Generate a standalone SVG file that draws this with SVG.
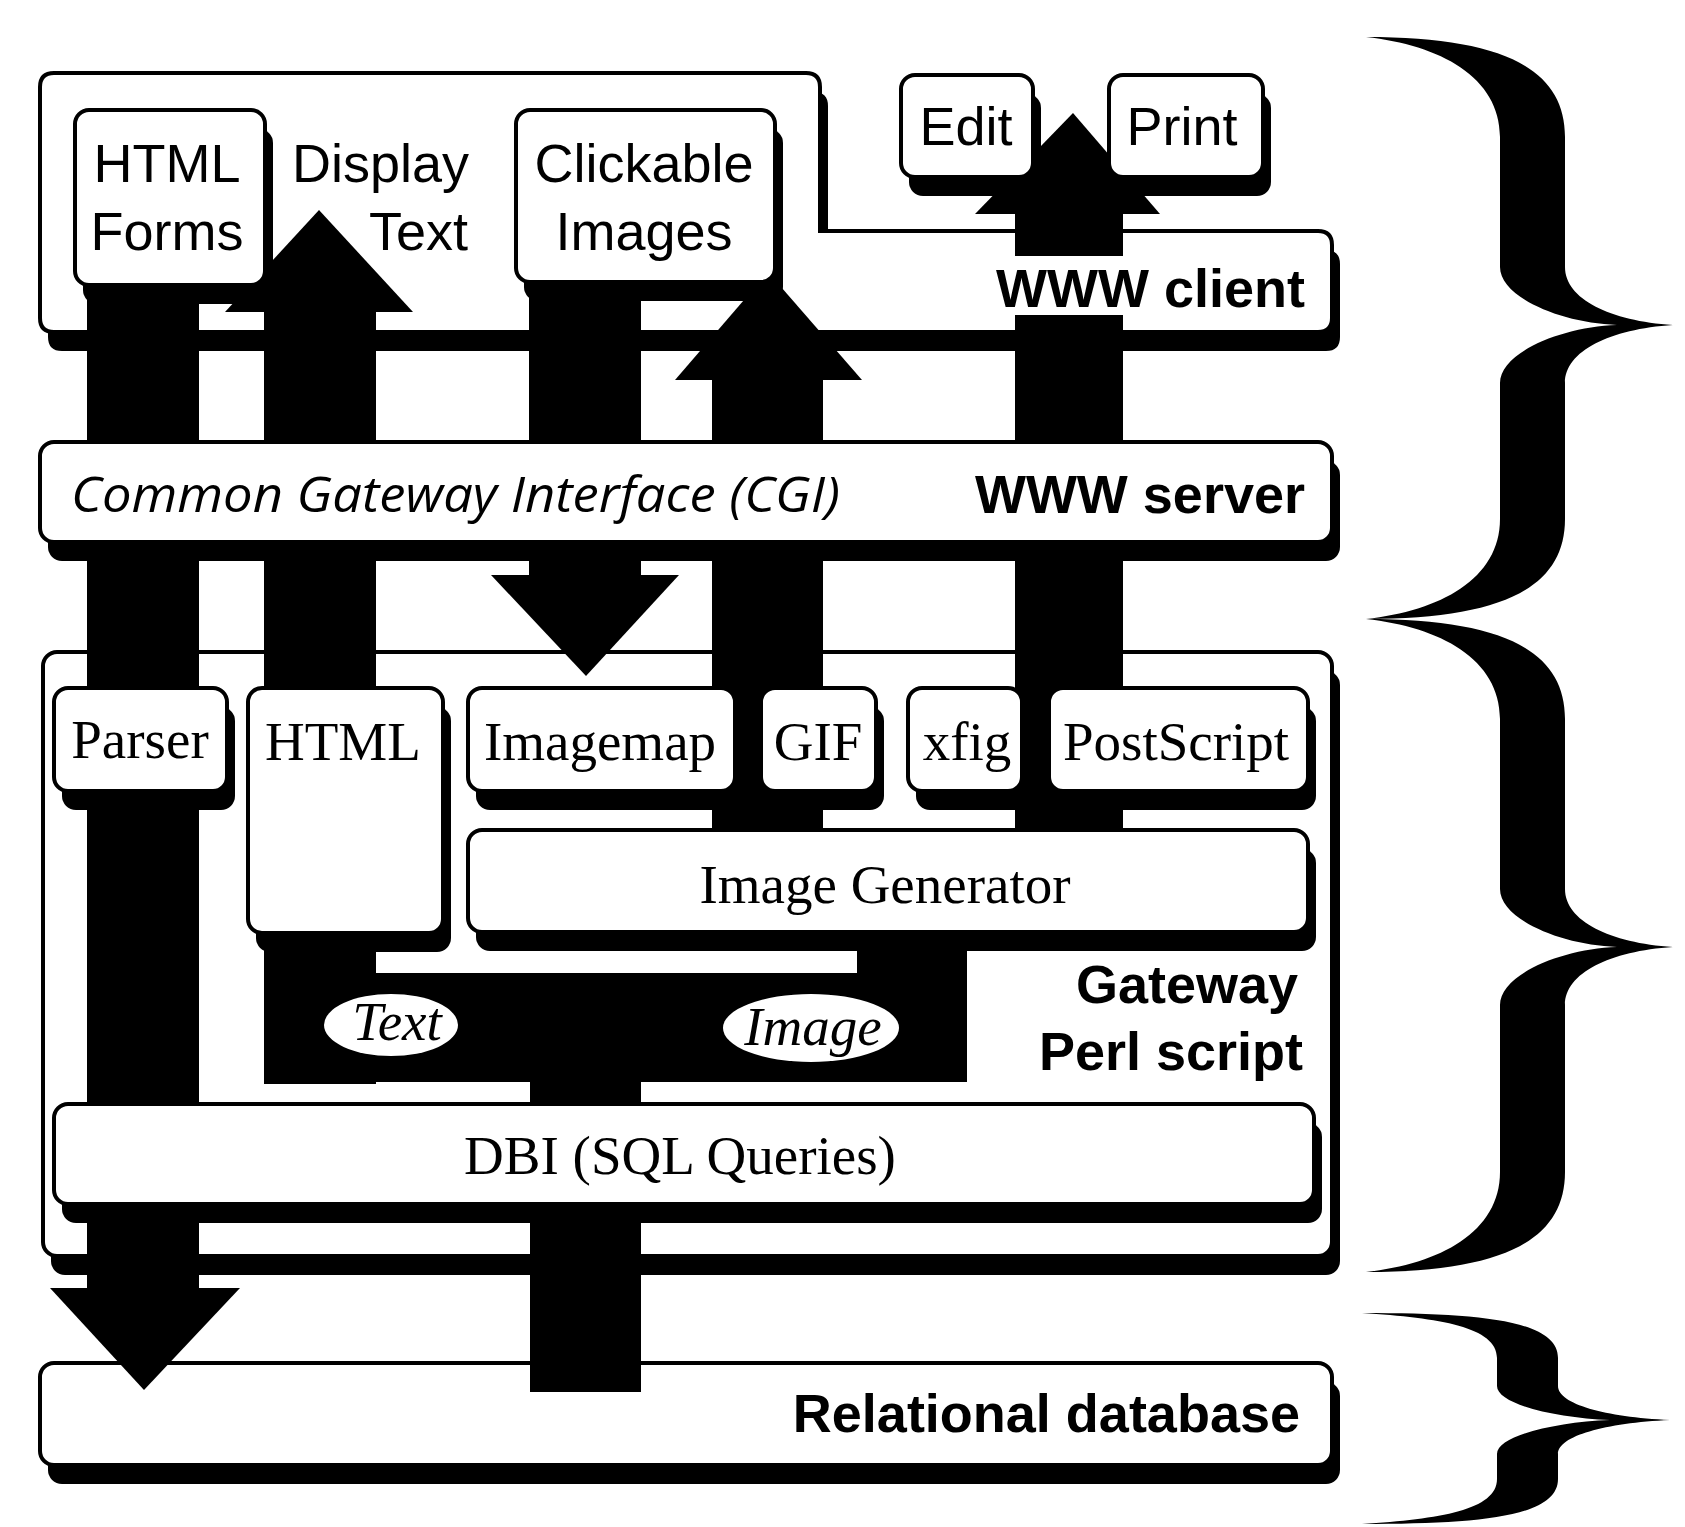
<svg xmlns="http://www.w3.org/2000/svg" width="1685" height="1527" viewBox="0 0 1685 1527">
<style>
.box{fill:#fff;stroke:#000;stroke-width:4}
.sh{fill:#000}
.arr{fill:#000}
.sans{font-family:"Liberation Sans",Arial,sans-serif;font-size:54px;fill:#000}
.bold{font-family:"Liberation Sans",Arial,sans-serif;font-size:54px;font-weight:bold;fill:#000}
.serif{font-family:"Liberation Serif","Times New Roman",serif;font-size:55px;fill:#000}
.ital{font-family:"Liberation Serif","Times New Roman",serif;font-style:italic;font-size:55px;fill:#000}
.cgi{font-family:"Open Sans","Liberation Sans",sans-serif;font-style:italic;font-size:50px;fill:#000}
.mid{text-anchor:middle}
.end{text-anchor:end}
</style>
<rect width="1685" height="1527" fill="#fff"/>

<!-- containers (under connectors) -->
<g id="www-client">
  <path class="sh" transform="translate(8,19)" d="M54,73 L806,73 Q820,73 820,87 L820,231 L1318,231 Q1332,231 1332,245 L1332,318 Q1332,332 1318,332 L54,332 Q40,332 40,318 L40,87 Q40,73 54,73 Z"/>
  <path class="box" d="M54,73 L806,73 Q820,73 820,87 L820,231 L1318,231 Q1332,231 1332,245 L1332,318 Q1332,332 1318,332 L54,332 Q40,332 40,318 L40,87 Q40,73 54,73 Z"/>
</g>
<g id="gateway">
  <rect class="sh" x="51" y="671" width="1289" height="604" rx="14"/>
  <rect class="box" x="43" y="652" width="1289" height="604" rx="14"/>
  <text class="bold end" x="1298" y="1003">Gateway</text>
  <text class="bold end" x="1303" y="1070">Perl script</text>
</g>
<g id="relational-db">
  <rect class="sh" x="48" y="1382" width="1292" height="102" rx="14"/>
  <rect class="box" x="40" y="1363" width="1292" height="102" rx="14"/>
  <text class="bold end" x="1300" y="1432">Relational database</text>
</g>

<!-- connectors -->
<g id="connectors">
  <!-- A: HTML Forms -> Parser -> DBI -> database -->
  <rect class="arr" x="87" y="280" width="112" height="1010"/>
  <polygon class="arr" points="50,1288 240,1288 144,1390"/>
  <!-- B: HTML -> Display Text -->
  <rect class="arr" x="264" y="310" width="112" height="774"/>
  <polygon class="arr" points="225,312 413,312 319,210"/>
  <!-- C: Clickable Images -> Imagemap -->
  <rect class="arr" x="529" y="280" width="112" height="297"/>
  <polygon class="arr" points="491,575 679,575 586,676"/>
  <!-- C2: gateway -> database -->
  <rect class="arr" x="530" y="1080" width="111" height="312"/>
  <!-- D: GIF -> Clickable Images -->
  <rect class="arr" x="712" y="378" width="111" height="455"/>
  <polygon class="arr" points="675,380 862,380 768,272"/>
  <!-- E: xfig/PostScript -> Edit/Print -->
  <rect class="arr" x="1015" y="212" width="108" height="621"/>
  <polygon class="arr" points="975,214 1160,214 1073,113"/>
  <!-- Text / Image band -->
  <polygon class="arr" points="264,973 857,973 857,925 967,925 967,1082 264,1082"/>
</g>

<g id="text-oval">
  <ellipse cx="391" cy="1025" rx="67" ry="31" fill="#fff"/>
  <text class="ital mid" x="397" y="1040">Text</text>
</g>
<g id="image-oval">
  <ellipse cx="811" cy="1028" rx="88" ry="34" fill="#fff"/>
  <text class="ital mid" x="813" y="1045">Image</text>
</g>

<!-- boxes over connectors -->
<g id="html-forms">
  <rect class="sh" x="83" y="129" width="190" height="175" rx="14"/>
  <rect class="box" x="75" y="110" width="190" height="175" rx="14"/>
  <text class="sans mid" x="167" y="182">HTML</text>
  <text class="sans mid" x="167" y="250">Forms</text>
</g>
<g id="display-text">
  <text class="sans" x="292" y="182">Display</text>
  <text class="sans end" x="468" y="250">Text</text>
</g>
<g id="clickable-images">
  <rect class="sh" x="524" y="129" width="259" height="172" rx="14"/>
  <rect class="box" x="516" y="110" width="259" height="172" rx="14"/>
  <text class="sans mid" x="644" y="182">Clickable</text>
  <text class="sans mid" x="644" y="250">Images</text>
</g>
<g id="edit">
  <rect class="sh" x="909" y="94" width="132" height="102" rx="14"/>
  <rect class="box" x="901" y="75" width="132" height="102" rx="14"/>
  <text class="sans mid" x="966" y="145">Edit</text>
</g>
<g id="print">
  <rect class="sh" x="1117" y="94" width="154" height="102" rx="14"/>
  <rect class="box" x="1109" y="75" width="154" height="102" rx="14"/>
  <text class="sans mid" x="1182" y="145">Print</text>
</g>
<g id="www-client-label">
  <rect x="985" y="256" width="341" height="59" fill="#fff"/>
  <text class="bold end" x="1305" y="307">WWW client</text>
</g>

<g id="cgi">
  <rect class="sh" x="48" y="461" width="1292" height="100" rx="14"/>
  <rect class="box" x="40" y="442" width="1292" height="100" rx="14"/>
  <text class="cgi" x="71" y="512" textLength="769" lengthAdjust="spacingAndGlyphs">Common Gateway Interface (CGI)</text>
  <text class="bold end" x="1305" y="513">WWW server</text>
</g>

<g id="parser">
  <rect class="sh" x="62" y="707" width="173" height="103" rx="14"/>
  <rect class="box" x="54" y="688" width="173" height="103" rx="14"/>
  <text class="serif mid" x="140" y="758">Parser</text>
</g>
<g id="html">
  <rect class="sh" x="256" y="707" width="195" height="245" rx="14"/>
  <rect class="box" x="248" y="688" width="195" height="245" rx="14"/>
  <text class="serif" x="265" y="760">HTML</text>
</g>
<g id="imagemap">
  <rect class="sh" x="476" y="707" width="267" height="103" rx="14"/>
  <rect class="box" x="468" y="688" width="267" height="103" rx="14"/>
  <text class="serif mid" x="600" y="760">Imagemap</text>
</g>
<g id="gif">
  <rect class="sh" x="769" y="707" width="115" height="103" rx="14"/>
  <rect class="box" x="761" y="688" width="115" height="103" rx="14"/>
  <text class="serif mid" x="818" y="760">GIF</text>
</g>
<g id="xfig">
  <rect class="sh" x="916" y="707" width="114" height="103" rx="14"/>
  <rect class="box" x="908" y="688" width="114" height="103" rx="14"/>
  <text class="serif mid" x="967" y="760">xfig</text>
</g>
<g id="postscript">
  <rect class="sh" x="1057" y="707" width="259" height="103" rx="14"/>
  <rect class="box" x="1049" y="688" width="259" height="103" rx="14"/>
  <text class="serif mid" x="1176" y="760">PostScript</text>
</g>
<g id="image-generator">
  <rect class="sh" x="476" y="849" width="840" height="102" rx="14"/>
  <rect class="box" x="468" y="830" width="840" height="102" rx="14"/>
  <text class="serif mid" x="885" y="903">Image Generator</text>
</g>
<g id="dbi">
  <rect class="sh" x="62" y="1123" width="1260" height="100" rx="14"/>
  <rect class="box" x="54" y="1104" width="1260" height="100" rx="14"/>
  <text class="serif mid" x="680" y="1174">DBI (SQL Queries)</text>
</g>

<!-- braces -->
<g id="braces" fill="#000">
  <path d="M1366,37 C1500,37 1565,67 1565,137 L1565,267 C1565,299 1610,321 1673,325 C1610,329 1565,351 1565,383 L1565,519 C1565,589 1500,619 1366,619 C1440,611 1500,579 1500,519 L1500,383 C1500,353 1560,327 1617,325 C1560,323 1500,297 1500,267 L1500,137 C1500,77 1440,45 1366,37 Z"/>
  <path d="M1366,619 C1500,619 1565,649 1565,719 L1565,889 C1565,921 1610,943 1673,947 C1610,951 1565,973 1565,1005 L1565,1172 C1565,1242 1500,1272 1366,1272 C1440,1264 1500,1232 1500,1172 L1500,1005 C1500,975 1560,949 1617,947 C1560,945 1500,919 1500,889 L1500,719 C1500,659 1440,627 1366,619 Z"/>
  <path d="M1362,1313 C1480,1313 1558,1320 1558,1358 L1558,1386 C1558,1404 1605,1417 1670,1420 C1605,1423 1558,1436 1558,1454 L1558,1479 C1558,1517 1480,1524 1362,1524 C1440,1519 1497,1510 1497,1479 L1497,1454 C1497,1436 1555,1422 1610,1420 C1555,1418 1497,1404 1497,1386 L1497,1358 C1497,1327 1440,1318 1362,1313 Z"/>
</g>
</svg>
